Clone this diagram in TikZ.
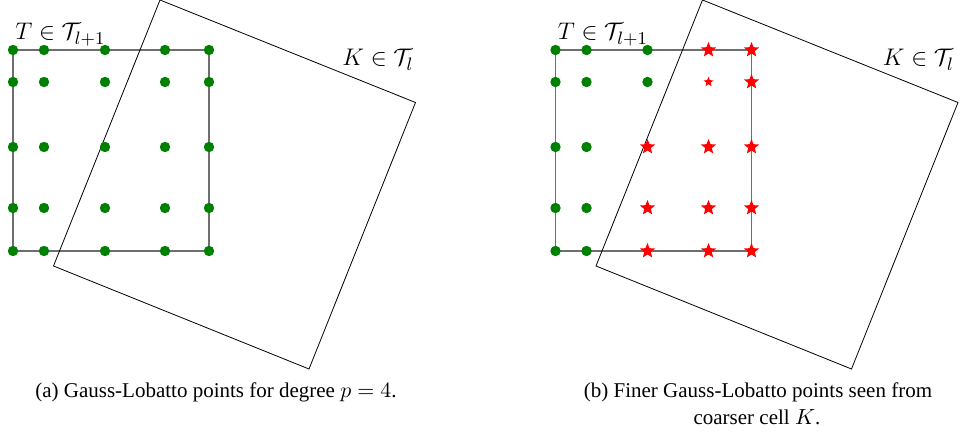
\documentclass[tikz,border=0pt]{standalone}
\usepackage{fontspec}
\setmainfont{Liberation Serif}
\usetikzlibrary{shapes.geometric}
\definecolor{DotGreen}{RGB}{0,128,0}
\definecolor{EdgeGray}{RGB}{110,110,110}

\begin{document}
\begin{tikzpicture}[x=0.5pt,y=-0.5pt,
    gl/.style={circle,fill=DotGreen,inner sep=0pt,minimum size=5.2pt},
    st/.style={star,star points=5,star point ratio=2.3,fill=red,inner sep=0pt,minimum size=8pt},
    sst/.style={st,minimum size=5.2pt},
    cell/.style={draw=EdgeGray,line width=0.6pt},
    coarse/.style={draw=black,line width=0.4pt},
    lb/.style={inner sep=0pt,anchor=base west,font=\fontsize{13}{15}\selectfont},
    captxt/.style={inner sep=0pt,anchor=base,font=\fontsize{10.5}{12}\selectfont}
  ]
  \useasboundingbox (0,0) rectangle (963,432);

  % (a) fine cell T with all points
  \draw[cell] (13,50) rectangle (209,251);
  \draw[coarse] (160,0) -- (415.5,102.5) -- (309,369) -- (53.5,266) -- cycle;
  \foreach \x [count=\i] in {13,44,105,165,209}
    \foreach \y [count=\j] in {50,82,147,208,251}
      \node(a\i\j)[gl] at (\x,\y) {};
  \node(ta)[lb] at (15,40) {$T\in\mathcal{T}_{l+1}$};
  \node(ka)[lb] at (342,66) {$K\in\mathcal{T}_{l}$};
  \node(capa)[captxt] at (216,397.5) {(a) Gauss-Lobatto points for degree $p=4$.};

  % (b) same cell, points inside K marked
  \begin{scope}[xshift=271.25pt]
    \draw[cell] (13,50) rectangle (209,251);
    \draw[coarse] (160,0) -- (415.5,102.5) -- (309,369) -- (53.5,266) -- cycle;
    \foreach \x [count=\i] in {13,44}
      \foreach \y [count=\j] in {50,82,147,208,251}
        \node(b\i\j)[gl] at (\x,\y) {};
    \node(b31)[gl] at (105,50) {};
    \node(b32)[gl] at (105,82) {};
    \node(b33)[st] at (105,147) {};
    \node(b34)[st] at (105,208) {};
    \node(b35)[st] at (105,251) {};
    \node(b41)[st] at (166,50) {};
    \node(b42)[sst] at (166,82) {};
    \node(b43)[st] at (166,147) {};
    \node(b44)[st] at (166,208) {};
    \node(b45)[st] at (166,251) {};
    \foreach \y [count=\j] in {50,82,147,208,251}
      \node(b5\j)[st] at (209,\y) {};
    \node(tb)[lb] at (15,40) {$T\in\mathcal{T}_{l+1}$};
    \node(kb)[lb] at (340,66) {$K\in\mathcal{T}_{l}$};
  \end{scope}
  \node(capb)[captxt] at (758,397.5) {(b) Finer Gauss-Lobatto points seen from};
  \node(capc)[captxt] at (757,424.5) {coarser cell $K$.};
\end{tikzpicture}
\end{document}
